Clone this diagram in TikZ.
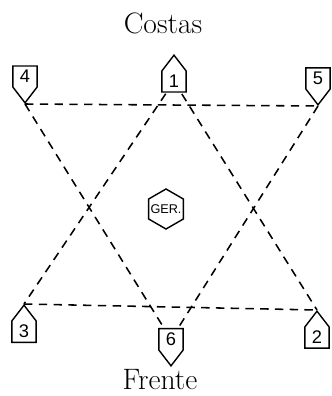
\documentclass[tikz,border=0pt]{standalone}
\usepackage{fontspec}
\newfontfamily\tagfont{Liberation Sans}
\usepackage{tikz}
\usetikzlibrary{shapes.symbols,shapes.geometric,backgrounds}
\tikzset{
  tagup/.style={draw, signal, signal to=north, signal pointer angle=75, fill=white, line width=1pt, inner xsep=5pt, inner ysep=3pt, minimum height=0.9cm, font=\tagfont\fontsize{13}{13}\selectfont},
  tagdn/.style={tagup, signal to=south},
  hexa/.style={draw, regular polygon, regular polygon sides=6, shape border rotate=30, fill=white, line width=1pt, minimum size=1.0cm, inner sep=0pt, font=\tagfont\fontsize{9}{9}\selectfont},
  dline/.style={line width=1.1pt, dash pattern=on 6pt off 4.5pt},
  side/.style={font=\fontsize{21}{22}\selectfont}
}

\begin{document}
\begin{tikzpicture}[x=0.025cm, y=-0.025cm]
  \useasboundingbox (0,0) rectangle (331,396);
  \node[side] (top) at (163,23) {Costas};
  \node[side] (bot) at (160,380) {Frente};
  \node[tagup, anchor=north] (n1) at (174,54) {1};
  \node[tagup, anchor=north] (n2) at (317,310) {2};
  \node[tagup, anchor=north] (n3) at (24,304) {3};
  \node[tagdn, anchor=south] (n4) at (25,104) {4};
  \node[tagdn, anchor=south] (n5) at (318,106) {5};
  \node[tagdn, anchor=south] (n6) at (171,367) {6};
  \node[hexa] (ger) at (166,209) {\makebox[0pt]{GER.}};
  % the two triangles
  \begin{scope}[on background layer]
    \draw[dline] (n1.center) -- (n3.north);
    \draw[dline] (n1.center) -- (n2.north);
    \draw[dline] (n3.north) -- (n2.north);
    \draw[dline] (n4.south) -- (n5.south);
    \draw[dline] (n4.south) -- (n6.center);
    \draw[dline] (n5.south) -- (n6.center);
  \end{scope}
\end{tikzpicture}
\end{document}
